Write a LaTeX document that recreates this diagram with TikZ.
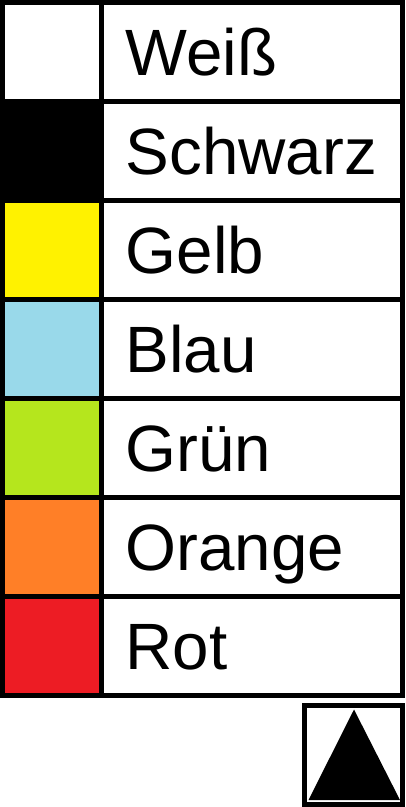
\documentclass[tikz,border=0pt]{standalone}
\usepackage{fontspec}
\setmainfont{Liberation Sans}
\definecolor{cyellow}{RGB}{255,242,0}
\definecolor{cblue}{RGB}{153,217,234}
\definecolor{cgreen}{RGB}{181,230,29}
\definecolor{corange}{RGB}{255,127,39}
\definecolor{cred}{RGB}{237,28,36}
\begin{document}
\begin{tikzpicture}[x=1pt,y=-1pt,
  frame/.style={line width=5pt,draw=black},
  lbl/.style={anchor=base west,inner sep=0pt,font=\fontsize{65.5}{70}\selectfont}]
\useasboundingbox (0,0) rectangle (405,807);
\fill[white] (0,0) rectangle (405,807);
\foreach \i/\t/\c in {0/Weiß/white,1/Schwarz/black,2/Gelb/cyellow,3/Blau/cblue,4/Grün/cgreen,5/Orange/corange,6/Rot/cred}{
  \pgfmathsetmacro\ry{2.5+99*\i}
  \fill[\c] (2.5,\ry) rectangle (101.5,\ry+99);
  \node[lbl] (t\i) at (125.5,\ry+73) {\t};
  \draw[frame] (2.5,\ry) -- (402.5,\ry);
}
\draw[frame] (2.5,2.5) rectangle (402.5,695.5);
\draw[frame] (101.5,2.5) -- (101.5,695.5);
\draw[frame] (304,705) rectangle (402.5,804.5);
\fill[black] (354,709.5) -- (400,800) -- (308.5,800) -- cycle;
\end{tikzpicture}
\end{document}
